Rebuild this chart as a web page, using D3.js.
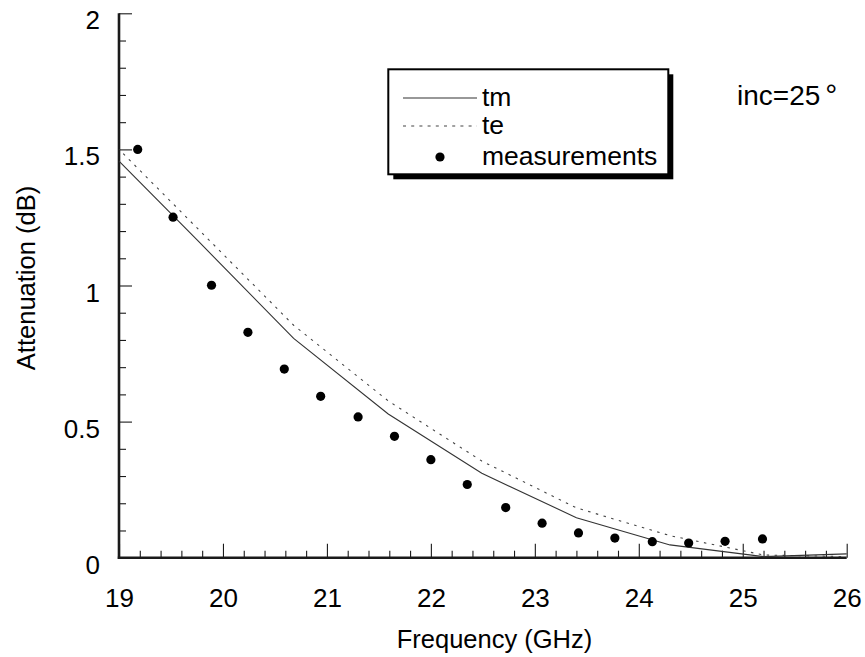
<!DOCTYPE html>
<html>
<head>
<meta charset="utf-8">
<script src="https://cdn.jsdelivr.net/npm/d3@7"></script>
<style>
  html, body { margin: 0; padding: 0; background: #fff; }
  svg { display: block; font-family: "Liberation Sans", Arial, Helvetica, sans-serif; }
</style>
</head>
<body>
<svg id="chart" width="865" height="657"></svg>
<script>
// Frequencies (GHz) where the theoretical curves are sampled
const curveFreq = [19.0, 19.77, 20.68, 21.59, 22.49, 23.40, 24.30, 25.20, 26.0];
// Theoretical attenuation (dB), TM and TE polarisation
const tmValues = [1.457, 1.160, 0.806, 0.528, 0.310, 0.147, 0.047, 0.004, 0.014];
const teValues = [1.500, 1.204, 0.854, 0.576, 0.355, 0.183, 0.081, 0.010, 0.004];

// Measured attenuation (dB)
const measFreq = [19.18, 19.52, 19.89, 20.24, 20.59, 20.94, 21.30, 21.65, 22.00,
                  22.35, 22.72, 23.07, 23.42, 23.77, 24.13, 24.48, 24.83, 25.19];
const measValues = [1.500, 1.251, 1.001, 0.828, 0.693, 0.593, 0.517, 0.446, 0.360,
                    0.269, 0.184, 0.127, 0.091, 0.072, 0.059, 0.054, 0.060, 0.069];

// Axis ticks
const xTicks = [19, 20, 21, 22, 23, 24, 25, 26];
const yTicks = [0, 0.5, 1, 1.5, 2];
const yTickLabels = ["0", "0.5", "1", "1.5", "2"];

const legendLabels = ["tm", "te", "measurements"];
const annotation = "inc=25";

const svg = d3.select("#chart");
const ink = "#1a1a1a";

const x = d3.scaleLinear().domain([19, 26]).range([119, 846.7]);
const y = d3.scaleLinear().domain([0, 2]).range([557.7, 13.3]);

const x0 = x.range()[0], y0 = y.range()[0];

// Minor ticks (inside the frame)
const xMinor = d3.range(19, 26.001, 0.2).filter(v => Math.abs(v - Math.round(v)) > 1e-6);
const yMinor = d3.range(0, 2.001, 0.1).filter(v => Math.abs(v * 2 - Math.round(v * 2)) > 1e-6);

const xAxisMinor = d3.axisBottom(x).tickValues(xMinor).tickSize(-7).tickFormat("");
const yAxisMinor = d3.axisLeft(y).tickValues(yMinor).tickSize(-7).tickFormat("");

svg.append("g").attr("transform", `translate(0,${y0})`).call(xAxisMinor)
  .call(g => g.select(".domain").remove())
  .call(g => g.selectAll("line").attr("stroke", ink).attr("stroke-width", 1.1));
svg.append("g").attr("transform", `translate(${x0},0)`).call(yAxisMinor)
  .call(g => g.select(".domain").remove())
  .call(g => g.selectAll("line").attr("stroke", ink).attr("stroke-width", 1.1));

// Major ticks with labels
const xAxis = d3.axisBottom(x).tickValues(xTicks).tickSize(-14).tickPadding(31)
  .tickFormat(d3.format("d"));
const yAxis = d3.axisLeft(y).tickValues(yTicks).tickSize(-13).tickPadding(19)
  .tickFormat((d, i) => yTickLabels[i]);

svg.append("g").attr("transform", `translate(0,${y0})`).call(xAxis)
  .call(g => g.select(".domain").remove())
  .call(g => g.selectAll("line").attr("stroke", ink).attr("stroke-width", 1.1))
  .call(g => g.selectAll("text").attr("fill", "#000").attr("font-size", 26)
    .attr("font-family", "'Liberation Sans', Arial, sans-serif"));

svg.append("g").attr("transform", `translate(${x0},0)`).call(yAxis)
  .call(g => g.select(".domain").remove())
  .call(g => g.selectAll("line").attr("stroke", ink).attr("stroke-width", 1.1))
  .call(g => g.selectAll("text").attr("fill", "#000").attr("font-size", 26)
    .attr("dy", "15.5").attr("font-family", "'Liberation Sans', Arial, sans-serif"));

// Frame lines (left and bottom only)
svg.append("line").attr("x1", x0).attr("x2", x0).attr("y1", y.range()[1]).attr("y2", y0 + 1.2)
  .attr("stroke", ink).attr("stroke-width", 2.6);
svg.append("line").attr("x1", x0 - 1.2).attr("x2", x.range()[1]).attr("y1", y0).attr("y2", y0)
  .attr("stroke", ink).attr("stroke-width", 2.6);

// Curves
const line = d3.line().x(d => x(d[0])).y(d => y(d[1]));
const tmPts = curveFreq.map((f, i) => [f, tmValues[i]]);
const tePts = curveFreq.map((f, i) => [f, teValues[i]]);

svg.append("path").datum(tePts).attr("d", line)
  .attr("fill", "none").attr("stroke", "#444").attr("stroke-width", 1.1)
  .attr("stroke-dasharray", "2.5,5.5").attr("stroke-dashoffset", -6);
svg.append("path").datum(tmPts).attr("d", line)
  .attr("fill", "none").attr("stroke", "#333").attr("stroke-width", 1.1);

// Measurements
svg.append("g").selectAll("circle")
  .data(measFreq.map((f, i) => [f, measValues[i]]))
  .join("circle")
  .attr("cx", d => x(d[0])).attr("cy", d => y(d[1])).attr("r", 4.6)
  .attr("fill", "#000");

// Axis titles
svg.append("text").attr("x", 494.5).attr("y", 647.5).attr("text-anchor", "middle")
  .attr("font-size", 25.5).attr("fill", "#000").text("Frequency (GHz)");
svg.append("text").attr("transform", "translate(35,278) rotate(-90)")
  .attr("text-anchor", "middle").attr("font-size", 25.5).attr("fill", "#000")
  .text("Attenuation (dB)");

// Legend
const lg = svg.append("g");
lg.append("rect").attr("x", 393.3).attr("y", 74.3).attr("width", 280).attr("height", 105)
  .attr("fill", "#000");
lg.append("rect").attr("x", 388.3).attr("y", 69.3).attr("width", 280).attr("height", 105)
  .attr("fill", "#fff").attr("stroke", "#000").attr("stroke-width", 2);
const rowY = [98, 126, 157];
lg.append("line").attr("x1", 403).attr("x2", 477).attr("y1", rowY[0]).attr("y2", rowY[0])
  .attr("stroke", "#333").attr("stroke-width", 1.1);
lg.append("line").attr("x1", 403).attr("x2", 477).attr("y1", rowY[1]).attr("y2", rowY[1])
  .attr("stroke", "#444").attr("stroke-width", 1.1).attr("stroke-dasharray", "3,5.2");
lg.append("circle").attr("cx", 440).attr("cy", rowY[2]).attr("r", 4.6).attr("fill", "#000");
lg.selectAll("text.lab").data(legendLabels).join("text").attr("class", "lab")
  .attr("x", 482).attr("y", (d, i) => rowY[i] + 8)
  .attr("font-size", 26.5).attr("fill", "#000").text(d => d);

// Incidence angle annotation
const ann = svg.append("text").attr("x", 737).attr("y", 105)
  .attr("font-size", 28).attr("fill", "#000");
ann.append("tspan").text(annotation);
ann.append("tspan").attr("dx", 5).attr("font-size", 30).text("°");
</script>
</body>
</html>
